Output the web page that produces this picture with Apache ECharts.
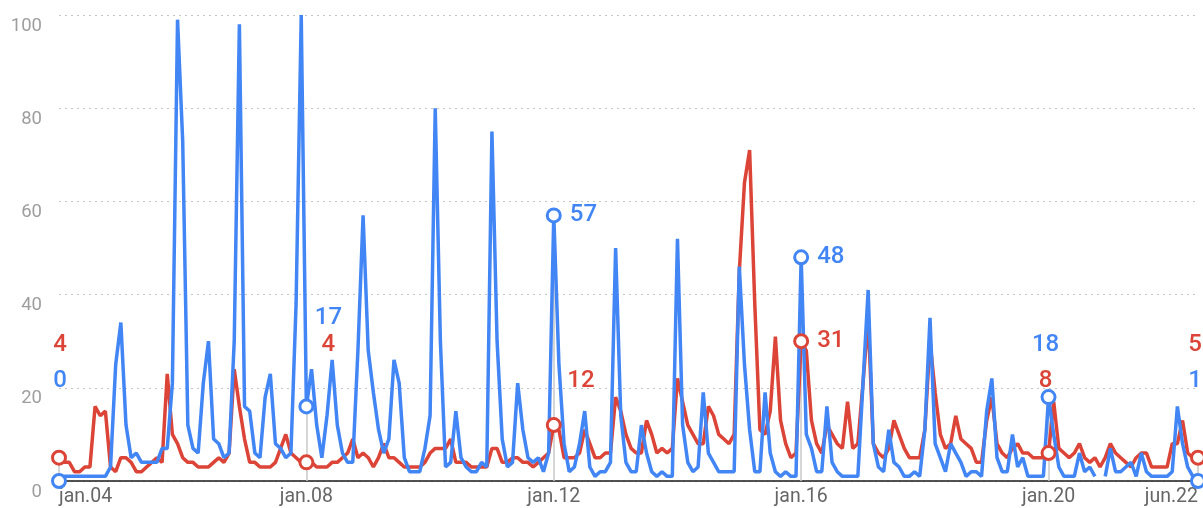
<!DOCTYPE html>
<html>
<head>
<meta charset="utf-8">
<script src="https://cdn.jsdelivr.net/npm/echarts@6/dist/echarts.min.js"></script>
<style>
  html, body { margin: 0; padding: 0; background: #fff; }
  #chart { width: 1203px; height: 508px; }
</style>
</head>
<body>
<div id="chart"></div>
<script>
  // monthly interest, jan 2004 .. jun 2022 (one row per year)
  const blueValues = [
    0, 1, 1, 1, 1, 1, 1, 1, 1, 1, 3, 25,
    34, 12, 5, 6, 4, 4, 4, 4, 7, 7, 21, 99,
    73, 12, 7, 6, 21, 30, 9, 8, 5, 6, 30, 98,
    16, 15, 6, 5, 18, 23, 8, 7, 5, 6, 38, 100,
    16, 24, 12, 5, 14, 26, 12, 6, 4, 4, 28, 57,
    28, 19, 11, 6, 9, 26, 21, 5, 2, 2, 2, 7,
    14, 80, 30, 3, 4, 15, 5, 3, 2, 2, 4, 3,
    75, 30, 9, 3, 4, 21, 11, 5, 4, 5, 2, 6,
    57, 25, 8, 2, 3, 8, 15, 3, 1, 2, 2, 4,
    50, 14, 4, 2, 2, 12, 6, 2, 1, 2, 1, 1,
    52, 12, 4, 2, 3, 19, 6, 4, 2, 2, 2, 2,
    46, 25, 11, 2, 2, 19, 6, 2, 1, 2, 1, 1,
    48, 10, 7, 2, 2, 16, 4, 2, 1, 1, 1, 1,
    21, 41, 8, 3, 2, 11, 4, 3, 1, 1, 2, 1,
    11, 35, 8, 5, 2, 8, 6, 4, 1, 2, 2, 1,
    15, 22, 5, 2, 2, 10, 3, 5, 1, 1, 1, 1,
    18, 10, 3, 1, 1, 1, 6, 2, 3, 1, null, 1,
    7, 2, 2, 3, 4, 1, 6, 2, 1, 1, 1, 1,
    2, 16, 8, 3, 1, 0
  ]
  const redValues = [
    5, 4, 4, 2, 2, 3, 3, 16, 14, 15, 3, 2,
    5, 5, 4, 2, 2, 3, 4, 5, 4, 23, 10, 8,
    5, 4, 4, 3, 3, 3, 4, 5, 4, 6, 24, 16,
    9, 4, 4, 3, 3, 3, 4, 7, 10, 6, 5, 4,
    4, 4, 3, 3, 3, 4, 4, 5, 6, 9, 5, 6,
    5, 3, 5, 8, 5, 5, 4, 3, 3, 3, 3, 4,
    6, 7, 7, 7, 9, 4, 4, 4, 3, 3, 3, 3,
    7, 7, 4, 4, 5, 5, 4, 4, 3, 4, 5, 6,
    12, 11, 5, 5, 5, 6, 11, 8, 5, 5, 6, 6,
    18, 15, 10, 7, 6, 6, 13, 10, 6, 7, 6, 7,
    22, 17, 12, 10, 8, 8, 16, 14, 10, 9, 8, 10,
    45, 64, 71, 38, 11, 10, 15, 31, 13, 8, 5, 6,
    30, 28, 13, 8, 6, 12, 10, 8, 7, 17, 7, 8,
    21, 35, 8, 6, 5, 7, 13, 10, 7, 5, 5, 5,
    11, 30, 19, 10, 7, 8, 14, 9, 8, 7, 4, 4,
    13, 18, 8, 6, 5, 7, 8, 6, 6, 5, 5, 5,
    6, 17, 7, 6, 5, 6, 8, 5, 4, 5, 3, 5,
    8, 6, 5, 4, 3, 5, 6, 6, 3, 3, 3, 3,
    8, 8, 13, 6, 5, 5
  ]
  const monthNames = ['jan', 'feb', 'mar', 'apr', 'maj', 'jun', 'jul', 'aug', 'sep', 'okt', 'nov', 'dec']
  const startYear = 2004
  const yTicks = [0, 20, 40, 60, 80, 100]

  // annotated months and the numbers shown next to them
  const markIndex = [0, 48, 96, 144, 192, 221]
  const blueMarkText = ['0', '17', '57', '48', '18', '1']
  const redMarkText = ['4', '4', '12', '31', '8', '5']

  const BLUE = '#4285f4'
  const RED = '#db4437'

  const months = []
  for (let i = 0; i < blueValues.length; i++) {
    const y = startYear + Math.floor(i / 12)
    months.push(monthNames[i % 12] + '.' + String(y).slice(2))
  }
  const last = months.length - 1

  // where each label sits: 'right' = beside the circle, otherwise stacked above at a y value
  const labelFont = { fontFamily: 'Roboto', fontSize: 24, fontWeight: 500 }
  const blueLabelPlace = [
    { at: 21.5, dx: 1 }, { at: 35, dx: 22 }, 'right', 'right', { at: 29.2, dx: -3 }, { at: 21.5, dx: -3 }
  ]
  const redLabelPlace = [
    { at: 29.2, dx: 1 }, { at: 29.2, dx: 22 }, { at: 21.5, right: true }, 'right', { at: 21.5, dx: -3 }, { at: 29.2, dx: -3 }
  ]

  function buildMarks (values, texts, places, color) {
    const items = []
    markIndex.forEach((idx, k) => {
      const place = places[k]
      items.push({
        coord: [months[idx], values[idx]],
        symbol: 'circle',
        symbolSize: 13,
        itemStyle: { color: '#fff', borderColor: color, borderWidth: 3 },
        label: place === 'right'
          ? Object.assign({ show: true, position: 'right', distance: 8, color: color, formatter: texts[k] }, labelFont)
          : { show: false }
      })
      if (place !== 'right') {
        items.push({
          coord: [months[idx], place.at],
          symbol: 'circle',
          symbolSize: 1,
          itemStyle: { color: 'rgba(0,0,0,0)' },
          label: Object.assign({
            show: true,
            position: place.right ? 'right' : 'inside',
            distance: 13,
            offset: place.right ? [0, 0] : [place.dx, 0],
            color: color,
            formatter: texts[k]
          }, labelFont)
        })
      }
    })
    return items
  }

  const guideLines = markIndex.map(idx => {
    const top = Math.max(blueValues[idx] || 0, redValues[idx] || 0)
    return [
      { coord: [months[idx], 0], symbol: 'none' },
      { coord: [months[idx], top], symbol: 'none' }
    ]
  })

  const chart = echarts.init(document.getElementById('chart'))
  chart.setOption({
    animation: false,
    grid: { left: 59, right: 5, top: 15, bottom: 27, outerBoundsMode: 'none' },
    xAxis: {
      type: 'category',
      data: months,
      boundaryGap: false,
      axisLine: { lineStyle: { color: '#1a1a1a', width: 1.5 } },
      axisTick: { show: false },
      axisLabel: {
        interval: (i) => i % 48 === 0 || i === last,
        alignMinLabel: 'left',
        alignMaxLabel: 'right',
        margin: 6,
        color: '#666',
        fontFamily: 'Roboto',
        fontSize: 19.5
      },
      splitLine: { show: false }
    },
    yAxis: {
      type: 'value',
      min: yTicks[0],
      max: yTicks[yTicks.length - 1],
      interval: yTicks[1] - yTicks[0],
      axisLine: { show: false },
      axisTick: { show: false },
      axisLabel: {
        color: '#9e9e9e',
        fontFamily: 'Roboto',
        fontSize: 18.5,
        verticalAlign: 'top',
        lineHeight: 22,
        margin: 17
      },
      splitLine: { lineStyle: { color: '#c4c4c4', type: [2, 4], width: 1 } }
    },
    series: [
      {
        name: 'red',
        type: 'line',
        data: redValues,
        showSymbol: false,
        lineStyle: { color: RED, width: 3.5 },
        itemStyle: { color: RED },
        z: 2,
        markLine: {
          silent: true,
          z: 1,
          symbol: 'none',
          label: { show: false },
          lineStyle: { color: '#c8c8c8', width: 1.5, type: 'solid' },
          data: guideLines
        },
        markPoint: { silent: true, z: 6, data: buildMarks(redValues, redMarkText, redLabelPlace, RED) }
      },
      {
        name: 'blue',
        type: 'line',
        data: blueValues,
        showSymbol: false,
        connectNulls: false,
        lineStyle: { color: BLUE, width: 3.5 },
        itemStyle: { color: BLUE },
        z: 3,
        markPoint: { silent: true, z: 7, data: buildMarks(blueValues, blueMarkText, blueLabelPlace, BLUE) }
      }
    ]
  })
</script>
</body>
</html>
